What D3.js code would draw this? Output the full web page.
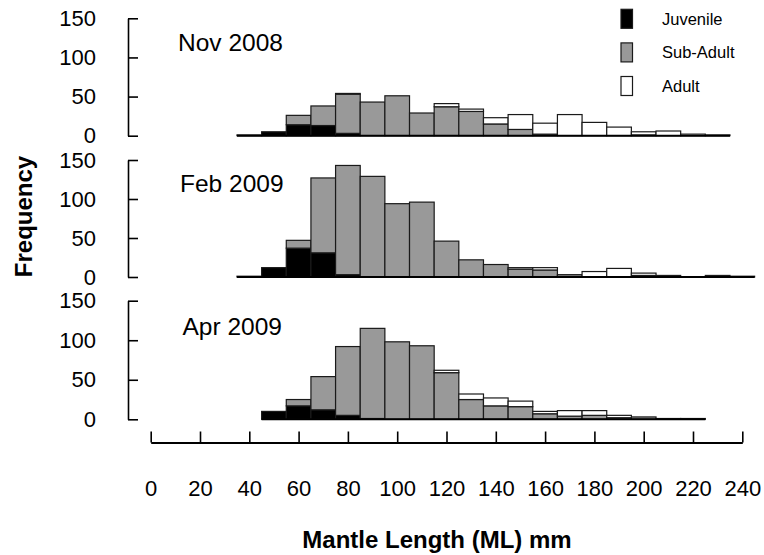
<!DOCTYPE html>
<html>
<head>
<meta charset="utf-8">
<script src="https://cdn.jsdelivr.net/npm/d3@7"></script>
<style>
  html, body { margin: 0; padding: 0; background: #fff; }
  svg { display: block; font-family: "Liberation Sans", Arial, sans-serif; }
</style>
</head>
<body>
<svg id="chart" width="764" height="555"></svg>
<script>
// Size classes (mid-point of each 10 mm mantle-length class)
const novClasses = [40, 50, 60, 70, 80, 90, 100, 110, 120, 130, 140, 150, 160, 170, 180, 190, 200, 210, 220, 230];
const novJuvenile = [1, 5, 14, 13, 3, 0, 0, 0, 0, 0, 0, 0, 0, 0, 0, 0, 0, 0, 0, 0];
const novSubAdult = [0, 0, 12, 25, 50, 43, 51, 29, 37, 31, 15, 8, 2, 0, 0, 0, 1, 0, 0, 0];
const novAdult    = [0, 0, 0, 0, 1, 0, 0, 0, 4, 3, 8, 19, 14, 27, 17, 11, 4, 6, 2, 1];

const febClasses = [40, 50, 60, 70, 80, 90, 100, 110, 120, 130, 140, 150, 160, 170, 180, 190, 200, 210, 220, 230, 240];
const febJuvenile = [1, 12, 37, 31, 3, 0, 0, 0, 0, 0, 0, 0, 0, 0, 0, 0, 0, 0, 0, 0, 0];
const febSubAdult = [0, 0, 10, 96, 140, 129, 94, 96, 46, 22, 16, 10, 9, 1, 0, 0, 2, 2, 0, 2, 1];
const febAdult    = [0, 0, 0, 0, 0, 0, 0, 0, 0, 0, 0, 2, 3, 2, 7, 11, 3, 0, 0, 0, 0];

const aprClasses = [50, 60, 70, 80, 90, 100, 110, 120, 130, 140, 150, 160, 170, 180, 190, 200, 210, 220];
const aprJuvenile = [10, 17, 12, 5, 1, 0, 0, 0, 0, 0, 0, 0, 0, 0, 0, 0, 0, 0];
const aprSubAdult = [0, 8, 42, 87, 114, 98, 93, 59, 25, 17, 16, 7, 4, 5, 2, 3, 1, 1];
const aprAdult    = [0, 0, 0, 0, 0, 0, 0, 3, 7, 10, 7, 3, 7, 6, 3, 0, 0, 0];

const panelNames = ["Nov 2008", "Feb 2009", "Apr 2009"];
const stageNames = ["Juvenile", "Sub-Adult", "Adult"];
const stageColors = ["#000000", "#999999", "#ffffff"];
const yTicks = [0, 50, 100, 150];
const xTicks = [0, 20, 40, 60, 80, 100, 120, 140, 160, 180, 200, 220, 240];
const binWidth = 10;

const panels = [
  { name: panelNames[0], classes: novClasses, series: [novJuvenile, novSubAdult, novAdult], top: 18.3, bottom: 135.7, labelX: 178, labelY: 50.5 },
  { name: panelNames[1], classes: febClasses, series: [febJuvenile, febSubAdult, febAdult], top: 160, bottom: 277, labelX: 180, labelY: 192 },
  { name: panelNames[2], classes: aprClasses, series: [aprJuvenile, aprSubAdult, aprAdult], top: 300.7, bottom: 419.3, labelX: 182.5, labelY: 334.5 }
];

const svg = d3.select("#chart");
const x = d3.scaleLinear().domain([0, 240]).range([150.7, 742.3]);
const yAxisX = 128;

panels.forEach(p => {
  const y = d3.scaleLinear().domain([0, 150]).range([p.bottom, p.top]);
  const rows = p.classes.map((c, i) => ({ cls: c, Juvenile: p.series[0][i], "Sub-Adult": p.series[1][i], Adult: p.series[2][i] }));
  const stacked = d3.stack().keys(stageNames)(rows);

  const g = svg.append("g");
  stacked.forEach((layer, k) => {
    g.append("g")
      .selectAll("rect")
      .data(layer.filter(d => d[1] > d[0]))
      .join("rect")
      .attr("x", d => x(d.data.cls - binWidth / 2))
      .attr("width", d => x(d.data.cls + binWidth / 2) - x(d.data.cls - binWidth / 2))
      .attr("y", d => y(d[1]))
      .attr("height", d => y(d[0]) - y(d[1]))
      .attr("fill", stageColors[k])
      .attr("stroke", "#1a1a1a")
      .attr("stroke-width", 1.2);
  });

  // baseline under the histogram
  g.append("line")
    .attr("x1", x(p.classes[0] - binWidth / 2))
    .attr("x2", x(p.classes[p.classes.length - 1] + binWidth / 2))
    .attr("y1", y(0)).attr("y2", y(0))
    .attr("stroke", "#000").attr("stroke-width", 2);

  // frequency axis
  const ax = svg.append("g")
    .attr("transform", `translate(${yAxisX},0)`)
    .call(d3.axisLeft(y).tickValues(yTicks).tickSize(-10).tickSizeOuter(0).tickPadding(32));
  ax.select(".domain").attr("stroke", "#000").attr("stroke-width", 1.6);
  ax.selectAll(".tick line").attr("stroke", "#000").attr("stroke-width", 1.6);
  ax.selectAll(".tick text").attr("font-size", 22).attr("font-family", "Liberation Sans, Arial, sans-serif").attr("fill", "#000");

  svg.append("text")
    .attr("x", p.labelX).attr("y", p.labelY)
    .attr("font-size", 24.5)
    .attr("fill", "#000")
    .text(p.name);
});

// mantle length axis
const xa = svg.append("g")
  .attr("transform", "translate(0,442.5)")
  .call(d3.axisBottom(x).tickValues(xTicks).tickSize(-11).tickSizeOuter(0).tickPadding(38).tickFormat(d3.format("d")));
xa.select(".domain").attr("stroke", "#000").attr("stroke-width", 2);
xa.selectAll(".tick line").attr("stroke", "#000").attr("stroke-width", 1.6);
xa.selectAll(".tick text").attr("font-size", 22).attr("font-family", "Liberation Sans, Arial, sans-serif").attr("fill", "#000");

// axis titles
svg.append("text")
  .attr("x", 437).attr("y", 548)
  .attr("text-anchor", "middle")
  .attr("font-size", 24).attr("font-weight", "bold")
  .text("Mantle Length (ML) mm");

svg.append("text")
  .attr("transform", "translate(32,216.5) rotate(-90)")
  .attr("text-anchor", "middle")
  .attr("font-size", 24).attr("font-weight", "bold")
  .text("Frequency");

// legend
const legend = svg.append("g");
stageNames.forEach((s, i) => {
  const cy = 18.8 + i * 33.6;
  legend.append("rect")
    .attr("x", 621).attr("y", cy - 9.5)
    .attr("width", 11.5).attr("height", 19)
    .attr("fill", stageColors[i])
    .attr("stroke", "#1a1a1a").attr("stroke-width", 1.2);
  legend.append("text")
    .attr("x", 662).attr("y", cy)
    .attr("dy", "0.35em")
    .attr("font-size", 16.5)
    .text(s);
});
</script>
</body>
</html>
